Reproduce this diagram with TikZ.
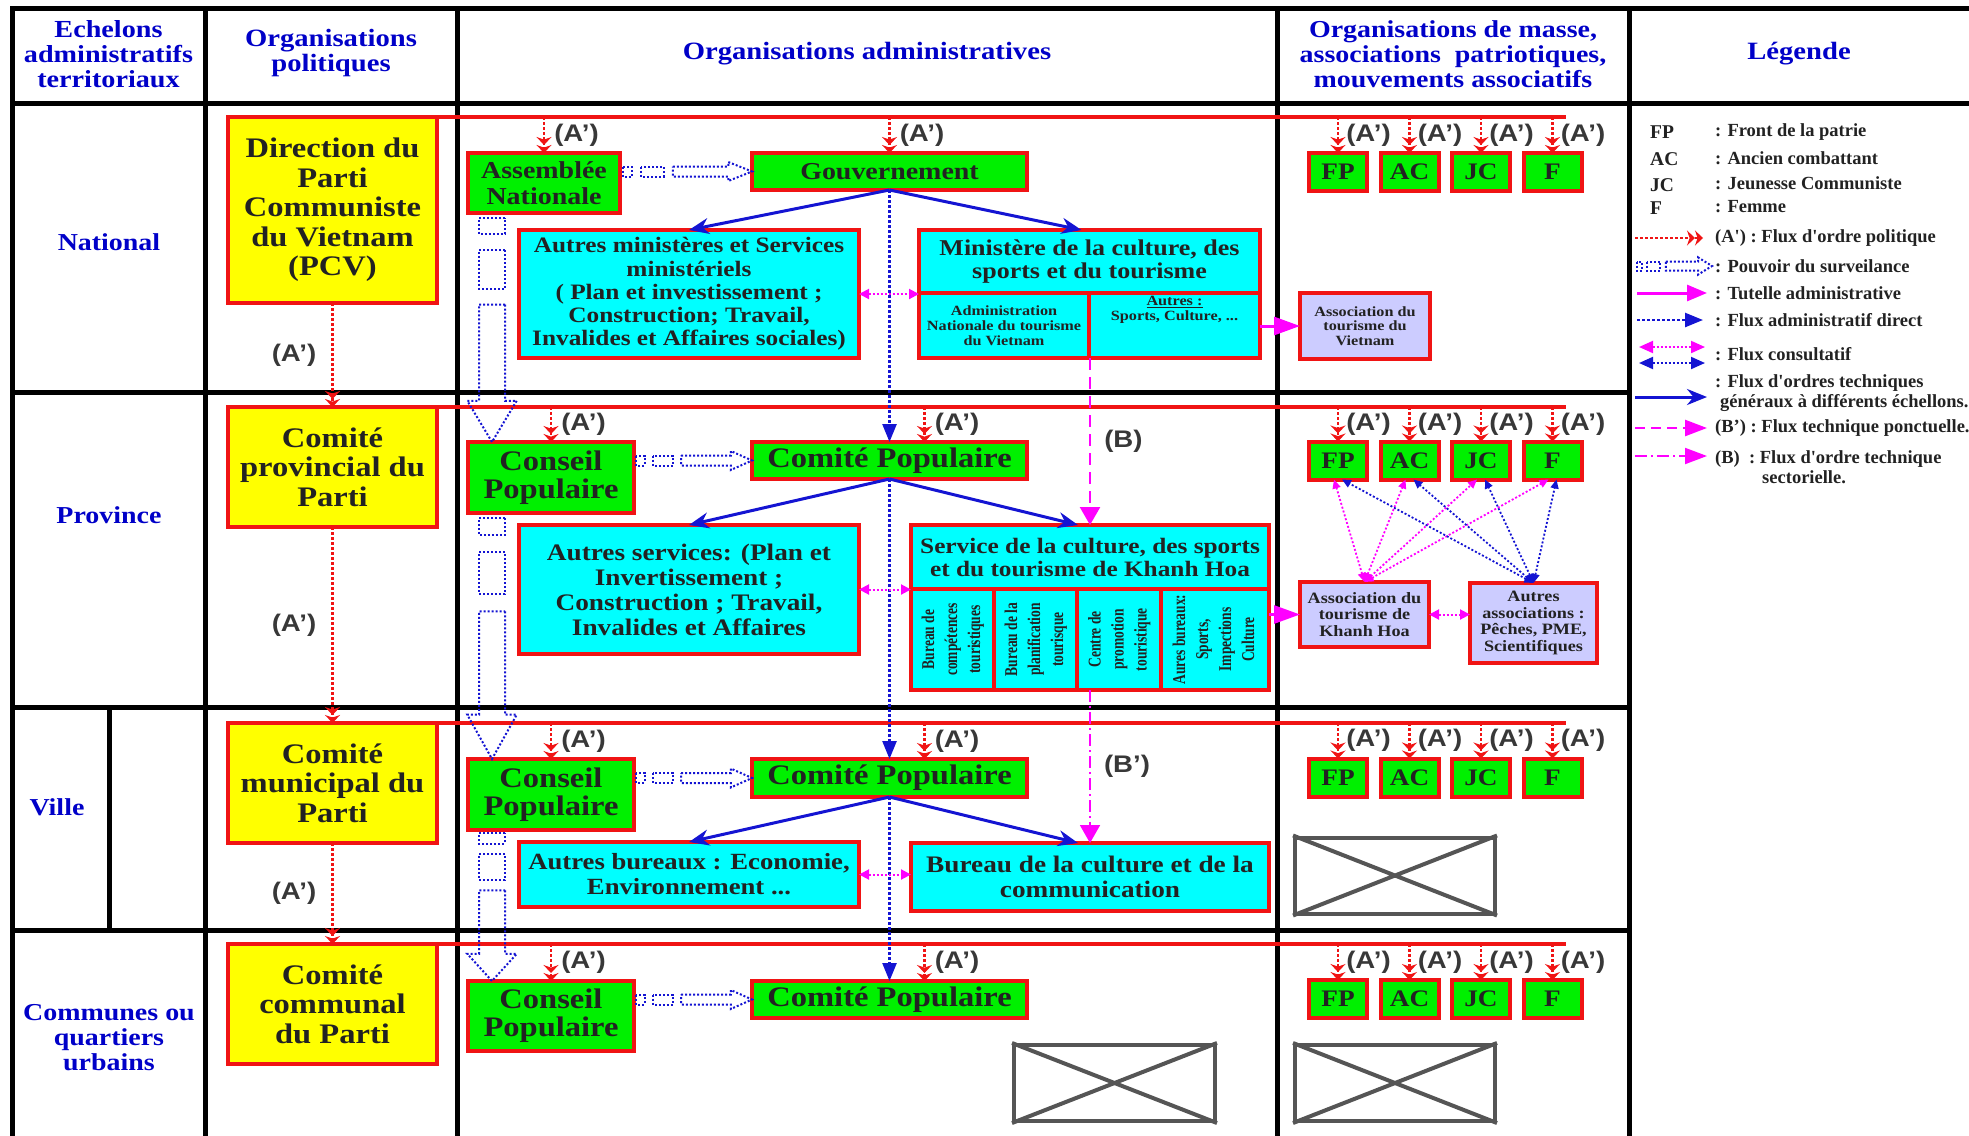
\documentclass[tikz,border=0pt]{standalone}
\usepackage{fontspec}
\setmainfont[FakeStretch=1.15]{Liberation Serif}
\setsansfont[FakeStretch=1.15]{Liberation Sans}
\newfontfamily\legfont{Liberation Serif}
\newfontfamily\cellfont[FakeStretch=0.75]{Liberation Serif}
\usepackage{graphicx}
\usepackage{tikz}
\usetikzlibrary{arrows.meta, positioning, calc}

\definecolor{rouge}{RGB}{240,20,20}
\definecolor{jaune}{RGB}{255,255,0}
\definecolor{vert}{RGB}{0,240,0}
\definecolor{turquoise}{RGB}{0,255,255}
\definecolor{lavande}{RGB}{204,204,255}
\definecolor{bleu}{RGB}{20,20,210}
\definecolor{titrebleu}{RGB}{0,0,200}
\definecolor{rose}{RGB}{255,0,255}
\definecolor{gris}{RGB}{85,85,85}
\definecolor{encre}{RGB}{34,34,34}

\tikzstyle{grille} = [line width=5pt, black, line cap=rect]
\tikzstyle{boite} = [rectangle, draw=rouge, line width=4pt, outer sep=0pt, inner sep=0pt, align=center, text=encre]
\tikzstyle{parti} = [boite, fill=jaune, minimum width=209pt, font=\fontsize{28.3}{29.5}\selectfont\bfseries]
\tikzstyle{admin} = [boite, fill=vert, font=\fontsize{28.3}{28}\selectfont\bfseries]
\tikzstyle{service} = [boite, fill=turquoise, font=\fontsize{22.6}{23.3}\selectfont\bfseries]
\tikzstyle{cellule} = [boite, fill=turquoise, font=\fontsize{14.1}{15}\selectfont\bfseries]
\tikzstyle{cellrot} = [boite, fill=turquoise, minimum height=101pt, font=\cellfont\fontsize{18}{23}\selectfont\bfseries]
\tikzstyle{masse} = [boite, fill=vert, minimum width=58pt, minimum height=38pt, font=\fontsize{23.7}{24}\selectfont\bfseries]
\tikzstyle{assoc} = [boite, fill=lavande, font=\fontsize{15.8}{16.7}\selectfont\bfseries]
\tikzstyle{croix} = [rectangle, draw=gris, line width=4pt, minimum width=200pt, minimum height=76pt]
\tikzstyle{titre} = [text=titrebleu, align=center, font=\fontsize{24.3}{25}\selectfont\bfseries]
\tikzstyle{alabel} = [text=encre!90, inner sep=1pt, font=\sffamily\fontsize{24}{24}\selectfont\bfseries]
\tikzstyle{legende} = [anchor=west, inner sep=0pt, align=left, text=encre, font=\legfont\fontsize{18.5}{20}\selectfont\bfseries]
\tikzstyle{ligne} = [draw=rouge, line width=3.5pt]
\tikzstyle{aflux} = [draw=rouge, line width=2.5pt, dash pattern=on 2.5pt off 2.5pt, -{Stealth[length=8pt,width=15pt]Stealth[length=8pt,width=15pt]}]
\tikzstyle{direct} = [draw=bleu, line width=2.5pt, dash pattern=on 2.5pt off 2.5pt, -{Triangle[length=18pt,width=14pt]}]
\tikzstyle{general} = [draw=bleu, line width=3pt, -{Stealth[length=20pt,width=16pt]}]
\tikzstyle{consult} = [draw=rose, line width=2pt, dash pattern=on 2pt off 2pt, <->, >={Triangle[length=10pt,width=10pt]}]
\tikzstyle{consultbleu} = [consult, draw=bleu]
\tikzstyle{croisement} = [consult, line width=1.8pt, >={Triangle[length=9pt,width=8pt]}]
\tikzstyle{tutelle} = [draw=rose, line width=3pt, -{Triangle[length=26pt,width=18pt]}]
\tikzstyle{tiret} = [draw=rose, line width=2.5pt, dash pattern=on 12pt off 7pt, -{Triangle[length=18pt,width=20pt]}]
\tikzstyle{pointtiret} = [draw=rose, line width=2pt, dash pattern=on 12pt off 4pt on 2pt off 4pt, -{Triangle[length=18pt,width=20pt]}]
\tikzstyle{surv} = [draw=bleu, line width=2pt, dash pattern=on 2pt off 2pt]

% fleche creuse "pouvoir du surveilance" : depart, arrivee, demi-largeur
\newcommand{\surv}[3]{%
  \path let \p1=#1, \p2=#2 in \pgfextra{%
    \pgfmathsetmacro{\survL}{veclen(\x2-\x1,\y2-\y1)}%
    \pgfmathsetmacro{\survA}{atan2(\y2-\y1,\x2-\x1)}%
    \xdef\survL{\survL}\xdef\survA{\survA}\xdef\survX{\x1}\xdef\survY{\y1}};
  \begin{scope}[shift={(\survX,\survY)}, rotate=\survA]
    \draw[surv] (0.02*\survL,-#3) rectangle (0.09*\survL,#3);
    \draw[surv] (0.16*\survL,-#3) rectangle (0.33*\survL,#3);
    \draw[surv] (0.40*\survL,-#3) -- (0.82*\survL,-#3) -- (0.82*\survL,-1.9*#3) -- (\survL,0)
      -- (0.82*\survL,1.9*#3) -- (0.82*\survL,#3) -- (0.40*\survL,#3) -- cycle;
  \end{scope}}

\begin{document}
\begin{tikzpicture}[x=1pt, y=-1pt, node distance=13.5pt]
  \useasboundingbox (0,0) rectangle (1969,1135);

  % Tableau
  \draw[grille] (12,8) -- (1969,8);
  \draw[grille] (12,103) -- (1969,103);
  \draw[grille] (12,392) -- (1629,392);
  \draw[grille] (12,707) -- (1629,707);
  \draw[grille] (12,930) -- (1629,930);
  \draw[grille] (12,8) -- (12,1135);
  \draw[grille] (205,8) -- (205,1135);
  \draw[grille] (457,8) -- (457,1135);
  \draw[grille] (1277,8) -- (1277,1135);
  \draw[grille] (1629,8) -- (1629,1135);
  \draw[grille] (109,707) -- (109,930);

  % En-tete
  \node[titre, font=\fontsize{24.5}{25}\selectfont\bfseries] (hEch) at (108.5,54) {Echelons\\administratifs\\territoriaux};
  \node[titre, font=\fontsize{24.9}{25}\selectfont\bfseries] (hPol) at (331,53) {Organisations\\politiques};
  \node[titre, font=\fontsize{24.9}{25}\selectfont\bfseries] (hAdm) at (867,54) {Organisations administratives};
  \node[titre] (hMas) at (1453,54) {Organisations de masse,\\associations~ patriotiques,\\mouvements associatifs};
  \node[titre, font=\fontsize{24.9}{25}\selectfont\bfseries] (hLeg) at (1799,54) {Légende};

  % Echelons
  \node[titre] (lNat) at (109,242) {National};
  \node[titre] (lProv) at (109,515) {Province};
  \node[titre] (lVil) at (57,807) {Ville};
  \node[titre] (lCom) at (109,1038) {Communes ou\\quartiers\\urbains};

  % Organisations politiques
  \node[parti, minimum height=186pt] (pcv) at (332.5,210) {Direction du\\Parti\\Communiste\\du Vietnam\\(PCV)};
  \node[parti, minimum height=120pt] (cprov) at (332.5,467) {Comité\\provincial du\\Parti};
  \node[parti, minimum height=120pt] (cmun) at (332.5,783) {Comité\\municipal du\\Parti};
  \node[parti, minimum height=120pt] (ccom) at (332.5,1004) {Comité\\communal\\du Parti};

  % Niveau national
  \node[admin, font=\fontsize{24.3}{26}\selectfont\bfseries, minimum width=152pt, minimum height=60pt] (assemblee) at (544,183) {Assemblée\\Nationale};
  \node[admin, font=\fontsize{24.3}{26}\selectfont\bfseries, minimum width=275pt, minimum height=37pt] (gouv) at (889.5,171.5) {Gouvernement};
  \node[service, font=\fontsize{22}{23.3}\selectfont\bfseries, minimum width=340pt, minimum height=128pt] (autresmin) at (689,294) {Autres ministères et Services\\ministériels\\( Plan et investissement ;\\Construction; Travail,\\Invalides et Affaires sociales)};
  \node[service, minimum width=341pt, minimum height=63pt] (mincult) at (1089.5,261.5) {Ministère de la culture, des\\sports et du tourisme};
  \node[cellule, minimum width=170pt, minimum height=65pt, below=0pt of mincult.south west, anchor=north west] (adminNat) {Administration\\Nationale du tourisme\\du Vietnam};
  \node[cellule, minimum width=171pt, minimum height=65pt, right=0pt of adminNat] (autresCell) {\parbox[c][58pt][t]{165pt}{\centering\underline{Autres :}\\Sports, Culture, ...}};
  \node[assoc, font=\fontsize{14.1}{14.6}\selectfont\bfseries, minimum width=130pt, minimum height=66pt] (assocVN) at (1365,326) {Association du\\tourisme du\\Vietnam};
  \node[masse] (fpN) at (1338,172) {FP};
  \node[masse, right=of fpN] (acN) {AC};
  \node[masse, right=of acN] (jcN) {JC};
  \node[masse, right=of jcN] (fN) {F};

  % Niveau provincial
  \node[admin, minimum width=166pt, minimum height=71pt] (conseilP) at (551,477.5) {Conseil\\Populaire};
  \node[admin, minimum width=275pt, minimum height=37pt] (comiteP) at (889.5,460.5) {Comité Populaire};
  \node[service, font=\fontsize{23.7}{25}\selectfont\bfseries, minimum width=340pt, minimum height=129pt] (autresserv) at (689,589.5) {Autres services: (Plan et\\Invertissement ;\\Construction ; Travail,\\Invalides et Affaires};
  \node[service, font=\fontsize{22}{23}\selectfont\bfseries, minimum width=358pt, minimum height=64pt] (servcult) at (1090,557) {Service de la culture, des sports\\et du tourisme de Khanh Hoa};
  \node[cellrot, minimum width=83pt, below=0pt of servcult.south west, anchor=north west] (bureauComp) {\rotatebox{90}{\begin{tabular}{@{}c@{}}Bureau de\\compétences\\touristiques\end{tabular}}};
  \node[cellrot, minimum width=83pt, right=0pt of bureauComp] (bureauPlan) {\rotatebox{90}{\begin{tabular}{@{}c@{}}Bureau de la\\planification\\tourisque\end{tabular}}};
  \node[cellrot, minimum width=84pt, right=0pt of bureauPlan] (centrePromo) {\rotatebox{90}{\begin{tabular}{@{}c@{}}Centre de\\promotion\\touristique\end{tabular}}};
  \node[cellrot, minimum width=108pt, right=0pt of centrePromo] (autresBur) {\rotatebox{90}{\begin{tabular}{@{}c@{}}Aures bureaux:\\Sports,\\Impections\\Culture\end{tabular}}};
  \node[assoc, minimum width=129pt, minimum height=65pt] (assocKH) at (1364.5,614.5) {Association du\\tourisme de\\Khanh Hoa};
  \node[assoc, minimum width=127pt, minimum height=80pt] (autresassoc) at (1533.5,623) {Autres\\associations :\\Pêches, PME,\\Scientifiques};
  \node[masse] (fpP) at (1338,460.5) {FP};
  \node[masse, right=of fpP] (acP) {AC};
  \node[masse, right=of acP] (jcP) {JC};
  \node[masse, right=of jcP] (fP) {F};

  % Niveau ville
  \node[admin, minimum width=166pt, minimum height=71pt] (conseilV) at (551,794.5) {Conseil\\Populaire};
  \node[admin, minimum width=275pt, minimum height=38pt] (comiteV) at (889.5,778) {Comité Populaire};
  \node[service, font=\fontsize{23.2}{25}\selectfont\bfseries, minimum width=340pt, minimum height=65pt] (autresbur) at (689,874.5) {Autres bureaux : Economie,\\Environnement ...};
  \node[service, font=\fontsize{23.7}{25}\selectfont\bfseries, minimum width=358pt, minimum height=68pt] (burcult) at (1090,877) {Bureau de la culture et de la\\communication};
  \node[masse] (fpV) at (1338,777.5) {FP};
  \node[masse, right=of fpV] (acV) {AC};
  \node[masse, right=of acV] (jcV) {JC};
  \node[masse, right=of jcV] (fV) {F};
  \node[croix] (croixV) at (1395,875.5) {};

  % Niveau communal
  \node[admin, minimum width=166pt, minimum height=70pt] (conseilC) at (551,1016) {Conseil\\Populaire};
  \node[admin, minimum width=275pt, minimum height=37pt] (comiteC) at (889.5,999.5) {Comité Populaire};
  \node[masse] (fpC) at (1338,999) {FP};
  \node[masse, right=of fpC] (acC) {AC};
  \node[masse, right=of acC] (jcC) {JC};
  \node[masse, right=of jcC] (fC) {F};
  \node[croix, minimum width=201pt] (croixCA) at (1114.5,1083) {};
  \node[croix] (croixCM) at (1395,1083) {};
  \draw[draw=gris, line width=4pt] (croixV.north west) -- (croixV.south east) (croixV.south west) -- (croixV.north east);
  \draw[draw=gris, line width=4pt] (croixCA.north west) -- (croixCA.south east) (croixCA.south west) -- (croixCA.north east);
  \draw[draw=gris, line width=4pt] (croixCM.north west) -- (croixCM.south east) (croixCM.south west) -- (croixCM.north east);

  % Lignes d'ordre politique
  \coordinate (lignN) at (1566,117);
  \coordinate (lignP) at (1566,407);
  \coordinate (lignV) at (1566,723);
  \coordinate (lignC) at (1566,944);
  \draw[ligne] (pcv.north east) -- (lignN);
  \draw[ligne] (cprov.north east) -- (lignP);
  \draw[ligne] (cmun.north east) -- (lignV);
  \draw[ligne] (ccom.north east) -- (lignC);

  % Fleches (A') entre comites du Parti
  \draw[aflux] (pcv.south) -- (cprov.north) node[alabel, midway, left=14pt] {(A')};
  \draw[aflux] (cprov.south) -- (cmun.north) node[alabel, midway, left=14pt] {(A')};
  \draw[aflux] (cmun.south) -- (ccom.north) node[alabel, midway, left=14pt] {(A')};

  % Fleches (A') vers les organisations administratives
  \coordinate (aP) at ($(comiteP.north)+(35,0)$);
  \coordinate (aV) at ($(comiteV.north)+(35,0)$);
  \coordinate (aC) at ($(comiteC.north)+(35,0)$);
  \draw[aflux] (assemblee.north |- lignN) -- (assemblee.north) node[alabel, midway, right=8pt] {(A')};
  \draw[aflux] (gouv.north |- lignN) -- (gouv.north) node[alabel, midway, right=8pt] {(A')};
  \draw[aflux] (conseilP.north |- lignP) -- (conseilP.north) node[alabel, midway, right=8pt] {(A')};
  \draw[aflux] (aP |- lignP) -- (aP) node[alabel, midway, right=8pt] {(A')};
  \draw[aflux] (conseilV.north |- lignV) -- (conseilV.north) node[alabel, midway, right=8pt] {(A')};
  \draw[aflux] (aV |- lignV) -- (aV) node[alabel, midway, right=8pt] {(A')};
  \draw[aflux] (conseilC.north |- lignC) -- (conseilC.north) node[alabel, midway, right=8pt] {(A')};
  \draw[aflux] (aC |- lignC) -- (aC) node[alabel, midway, right=8pt] {(A')};

  % Fleches (A') vers les organisations de masse
  \draw[aflux] (fpN.north |- lignN) -- (fpN.north) node[alabel, midway, right=6pt] {(A')};
  \draw[aflux] (acN.north |- lignN) -- (acN.north) node[alabel, midway, right=6pt] {(A')};
  \draw[aflux] (jcN.north |- lignN) -- (jcN.north) node[alabel, midway, right=6pt] {(A')};
  \draw[aflux] (fN.north |- lignN) -- (fN.north) node[alabel, midway, right=6pt] {(A')};
  \draw[aflux] (fpP.north |- lignP) -- (fpP.north) node[alabel, midway, right=6pt] {(A')};
  \draw[aflux] (acP.north |- lignP) -- (acP.north) node[alabel, midway, right=6pt] {(A')};
  \draw[aflux] (jcP.north |- lignP) -- (jcP.north) node[alabel, midway, right=6pt] {(A')};
  \draw[aflux] (fP.north |- lignP) -- (fP.north) node[alabel, midway, right=6pt] {(A')};
  \draw[aflux] (fpV.north |- lignV) -- (fpV.north) node[alabel, midway, right=6pt] {(A')};
  \draw[aflux] (acV.north |- lignV) -- (acV.north) node[alabel, midway, right=6pt] {(A')};
  \draw[aflux] (jcV.north |- lignV) -- (jcV.north) node[alabel, midway, right=6pt] {(A')};
  \draw[aflux] (fV.north |- lignV) -- (fV.north) node[alabel, midway, right=6pt] {(A')};
  \draw[aflux] (fpC.north |- lignC) -- (fpC.north) node[alabel, midway, right=6pt] {(A')};
  \draw[aflux] (acC.north |- lignC) -- (acC.north) node[alabel, midway, right=6pt] {(A')};
  \draw[aflux] (jcC.north |- lignC) -- (jcC.north) node[alabel, midway, right=6pt] {(A')};
  \draw[aflux] (fC.north |- lignC) -- (fC.north) node[alabel, midway, right=6pt] {(A')};

  % Pouvoir du surveilance
  \coordinate (sN) at ($(assemblee.south west)+(24,0)$);
  \coordinate (sP) at ($(conseilP.south west)+(24,0)$);
  \coordinate (sV) at ($(conseilV.south west)+(24,0)$);
  \surv{(sN)}{(sN |- conseilP.north)}{13}
  \surv{(sP)}{(sP |- conseilV.north)}{13}
  \surv{(sV)}{(sV |- conseilC.north)}{13}
  \surv{(assemblee.east |- gouv.west)}{(gouv.west)}{5}
  \surv{(conseilP.east |- comiteP.west)}{(comiteP.west)}{5}
  \surv{(conseilV.east |- comiteV.west)}{(comiteV.west)}{5}
  \surv{(conseilC.east |- comiteC.west)}{(comiteC.west)}{5}

  % Flux administratif direct
  \draw[direct] (gouv.south) -- (comiteP.north);
  \draw[direct] (comiteP.south) -- (comiteV.north);
  \draw[direct] (comiteV.south) -- (comiteC.north);

  % Flux d'ordres techniques generaux
  \draw[general] (gouv.south) -- (autresmin.north);
  \draw[general] (gouv.south) -- ([xshift=-8pt]mincult.north);
  \draw[general] (comiteP.south) -- (autresserv.north);
  \draw[general] (comiteP.south) -- ([xshift=-12pt]servcult.north);
  \draw[general] (comiteV.south) -- (autresbur.north);
  \draw[general] (comiteV.south) -- ([xshift=-12pt]burcult.north);

  % Flux consultatif
  \draw[consult] (autresmin.east) -- (autresmin.east -| adminNat.west);
  \draw[consult] (autresserv.east) -- (autresserv.east -| bureauComp.west);
  \draw[consult] (autresbur.east) -- (autresbur.east -| burcult.west);
  \draw[consult] (assocKH.east) -- (autresassoc.west |- assocKH.east);
  \draw[croisement] (assocKH.north) -- ([xshift=-4pt]fpP.south);
  \draw[croisement] (assocKH.north) -- ([xshift=-4pt]acP.south);
  \draw[croisement] (assocKH.north) -- ([xshift=-4pt]jcP.south);
  \draw[croisement] (assocKH.north) -- ([xshift=-4pt]fP.south);
  \draw[croisement, draw=bleu] (autresassoc.north) -- ([xshift=4pt]fpP.south);
  \draw[croisement, draw=bleu] (autresassoc.north) -- ([xshift=4pt]acP.south);
  \draw[croisement, draw=bleu] (autresassoc.north) -- ([xshift=4pt]jcP.south);
  \draw[croisement, draw=bleu] (autresassoc.north) -- ([xshift=4pt]fP.south);

  % Tutelle administrative
  \draw[tutelle] (autresCell.east |- assocVN.west) -- (assocVN.west);
  \draw[tutelle] (autresBur.east |- assocKH.west) -- (assocKH.west);

  % Flux techniques (B) et (B')
  \draw[tiret] (servcult.north |- adminNat.south) -- (servcult.north) node[alabel, midway, right=12pt] {(B)};
  \draw[pointtiret] (servcult.north |- bureauComp.south) -- (burcult.north) node[alabel, midway, right=12pt] {(B')};

  % Legende
  \node[legende, font=\legfont\fontsize{19.5}{20}\selectfont\bfseries] (abFP) at (1650,132) {FP};
  \node[legende, font=\legfont\fontsize{19.5}{20}\selectfont\bfseries] (abAC) at (1650,159) {AC};
  \node[legende, font=\legfont\fontsize{19.5}{20}\selectfont\bfseries] (abJC) at (1650,185) {JC};
  \node[legende, font=\legfont\fontsize{19.5}{20}\selectfont\bfseries] (abF) at (1650,208) {F};
  \node[legende] (lgFP) at (1715,132) {: Front de la patrie};
  \node[legende] (lgAC) at (1715,158) {: Ancien combattant};
  \node[legende] (lgJC) at (1715,183) {: Jeunesse Communiste};
  \node[legende] (lgF) at (1715,207) {: Femme};
  \node[legende] (lgA) at (1715,238) {(A') : Flux d'ordre politique};
  \node[legende] (lgS) at (1715,266) {: Pouvoir du surveilance};
  \node[legende] (lgT) at (1715,293) {: Tutelle administrative};
  \node[legende] (lgD) at (1715,320) {: Flux administratif direct};
  \node[legende] (lgC) at (1715,354) {: Flux consultatif};
  \node[legende] (lgG) at (1715,393) {: Flux d'ordres techniques\\\hspace{5pt}généraux à différents échellons.};
  \node[legende] (lgBp) at (1715,428) {(B’) : Flux technique ponctuelle.};
  \node[legende] (lgB) at (1715,467) {(B)\ \ : Flux d'ordre technique\\\hspace{47pt}sectorielle.};
  \draw[aflux] ([xshift=-80pt]lgA.west) -- ([xshift=-12pt]lgA.west);
  \surv{([xshift=-80pt]lgS.west)}{([xshift=-3pt]lgS.west)}{4.5}
  \draw[tutelle, -{Triangle[length=20pt,width=16pt]}] ([xshift=-78pt]lgT.west) -- ([xshift=-8pt]lgT.west);
  \draw[direct] ([xshift=-78pt]lgD.west) -- ([xshift=-12pt]lgD.west);
  \draw[consult, >={Triangle[length=14pt,width=12pt]}] ([xshift=-76pt,yshift=7pt]lgC.west) -- ([xshift=-10pt,yshift=7pt]lgC.west);
  \draw[consultbleu, >={Triangle[length=14pt,width=12pt]}] ([xshift=-76pt,yshift=-9pt]lgC.west) -- ([xshift=-10pt,yshift=-9pt]lgC.west);
  \draw[general] ([xshift=-80pt,yshift=-4pt]lgG.west) -- ([xshift=-8pt,yshift=-4pt]lgG.west);
  \draw[tiret, dash pattern=on 10pt off 6pt, -{Triangle[length=22pt,width=16pt]}] ([xshift=-80pt]lgBp.west) -- ([xshift=-8pt]lgBp.west);
  \draw[pointtiret, -{Triangle[length=22pt,width=16pt]}] ([xshift=-80pt,yshift=11pt]lgB.west) -- ([xshift=-8pt,yshift=11pt]lgB.west);
\end{tikzpicture}
\end{document}
